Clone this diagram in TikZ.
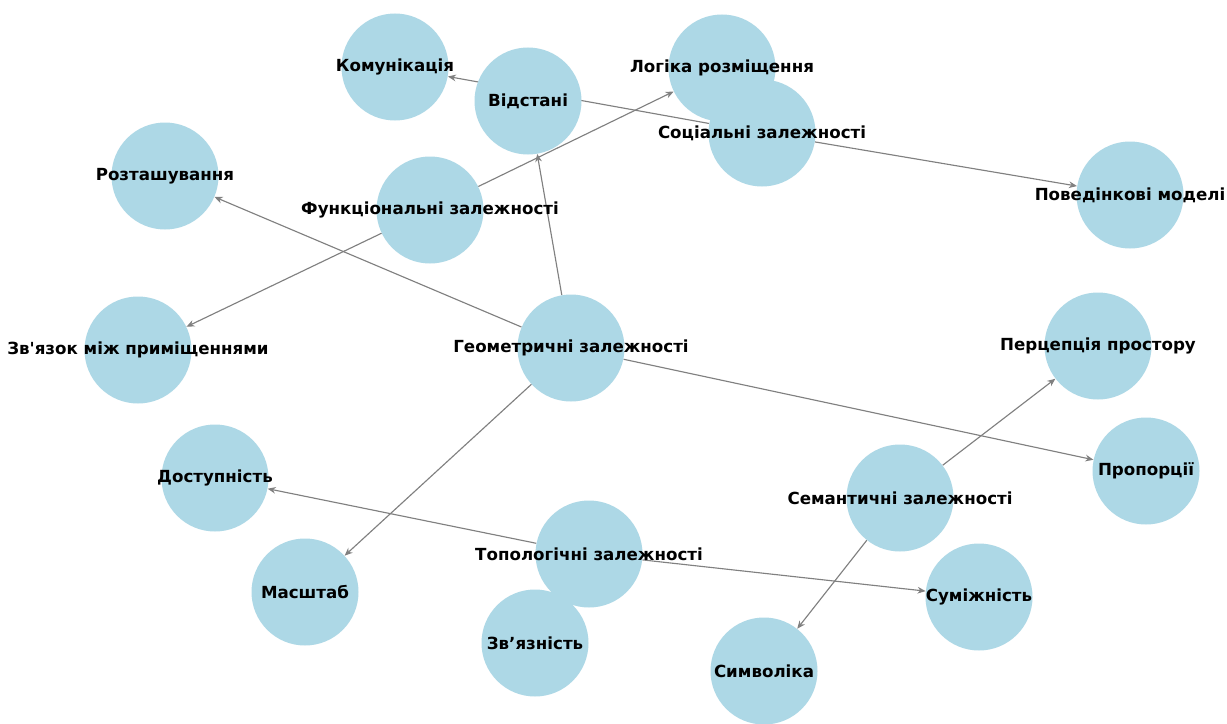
\documentclass[tikz,border=0pt]{standalone}
\usepackage{fontspec}
\setmainfont{DejaVu Sans}
\newfontfamily\rawfont{DejaVu Sans}
\usetikzlibrary{arrows.meta,backgrounds}
\definecolor{nodeblue}{HTML}{ADD8E6}
\definecolor{edgegray}{HTML}{808080}
\begin{document}
\begin{tikzpicture}[x=0.75pt,y=-0.75pt,
  vtx/.style={circle,fill=nodeblue,draw=none,minimum size=80.25pt,inner sep=0pt},
  lbl/.style={font=\bfseries\fontsize{12.5}{14}\selectfont,text=black,inner sep=0pt},
  edge/.style={draw=edgegray,line width=0.85pt,-{Stealth[length=6pt,width=5pt]}}]
\useasboundingbox (0,0) rectangle (1227,724);
% circles
\node[vtx] (kom) at (395,67) {};
\node[vtx] (vid) at (528,101) {};
\node[vtx] (log) at (722,68) {};
\node[vtx] (soc) at (762,133) {};
\node[vtx] (roz) at (165,176) {};
\node[vtx] (fun) at (430,210) {};
\node[vtx] (pov) at (1130,195) {};
\node[vtx] (zvm) at (138,350) {};
\node[vtx] (geo) at (571,348) {};
\node[vtx] (per) at (1098,346) {};
\node[vtx] (dos) at (215,478) {};
\node[vtx] (pro) at (1146,471) {};
\node[vtx] (sem) at (900,498) {};
\node[vtx] (top) at (589,554) {};
\node[vtx] (mas) at (305,592) {};
\node[vtx] (sum) at (979,597) {};
\node[vtx] (zvz) at (535,643) {};
\node[vtx] (sym) at (764,671) {};
% edges under the circles
\begin{pgfonlayer}{background}
\fill[white] (0,0) rectangle (1227,724);
\draw[edge] (geo) -- (vid);
\draw[edge] (geo) -- (roz);
\draw[edge] (geo) -- (mas);
\draw[edge] (geo) -- (pro);
\draw[edge] (fun) -- (log);
\draw[edge] (fun) -- (zvm);
\draw[edge] (soc) -- (kom);
\draw[edge] (soc) -- (pov);
\draw[edge] (sem) -- (per);
\draw[edge] (sem) -- (sym);
\draw[edge] (top) -- (dos);
\draw[edge] (top) -- (sum);
\end{pgfonlayer}
% labels on top
\node[lbl] (tkom) at (kom.center) {Комунікація};
\node[lbl] (tvid) at (vid.center) {Відстані};
\node[lbl] (tlog) at (log.center) {Логіка розміщення};
\node[lbl] (tsoc) at (soc.center) {Соціальні залежності};
\node[lbl] (troz) at (roz.center) {Розташування};
\node[lbl] (tfun) at (fun.center) {Функціональні залежності};
\node[lbl] (tpov) at (pov.center) {Поведінкові моделі};
\node[lbl] (tzvm) at (zvm.center) {\rawfont\bfseries Зв'язок між приміщеннями};
\node[lbl] (tgeo) at (geo.center) {Геометричні залежності};
\node[lbl] (tper) at (per.center) {Перцепція простору};
\node[lbl] (tdos) at (dos.center) {Доступність};
\node[lbl] (tpro) at (pro.center) {Пропорції};
\node[lbl] (tsem) at (sem.center) {Семантичні залежності};
\node[lbl] (ttop) at (top.center) {Топологічні залежності};
\node[lbl] (tmas) at (mas.center) {Масштаб};
\node[lbl] (tsum) at (sum.center) {Суміжність};
\node[lbl] (tzvz) at (zvz.center) {Зв’язність};
\node[lbl] (tsym) at (sym.center) {Символіка};
\end{tikzpicture}
\end{document}
